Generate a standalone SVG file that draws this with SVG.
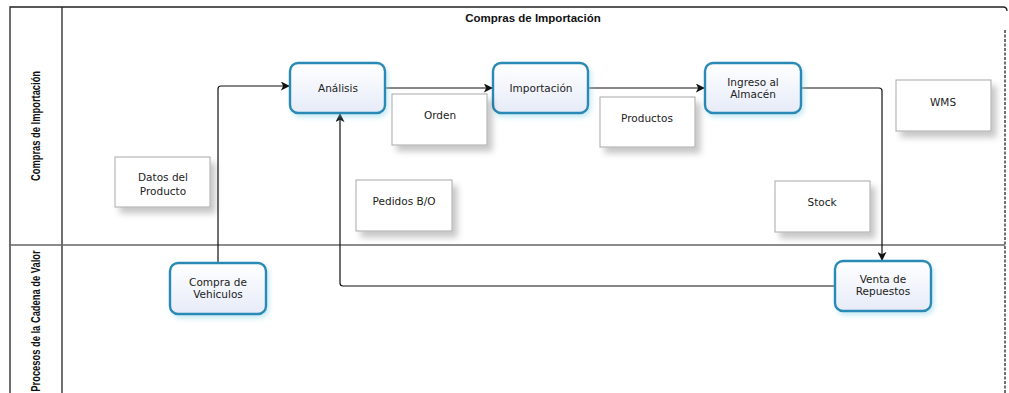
<svg xmlns="http://www.w3.org/2000/svg" width="1009" height="393" viewBox="0 0 1009 393">
  <style>
    .lane { fill: none; stroke: #222; stroke-width: 1.3; }
    .divider { stroke: #666; stroke-width: 1.5; }
    .title { font-family: "Liberation Sans", Arial, sans-serif; font-weight: bold; font-size: 11.5px; fill: #111; text-anchor: middle; }
    .lanelabel { font-family: "Liberation Sans", Arial, sans-serif; font-weight: bold; font-size: 13px; fill: #111; text-anchor: middle; }
    .task rect { fill: url(#taskFill); stroke: #2a8ab5; stroke-width: 2.4; filter: url(#glow); }
    .data rect { fill: #fff; stroke: #a8a8a8; stroke-width: 1; filter: url(#shadow); }
    .label { font-family: "DejaVu Sans", Verdana, sans-serif; font-size: 10.5px; fill: #222; text-anchor: middle; }
    .flow { fill: none; stroke: #111; stroke-width: 1.2; marker-end: url(#arrow); }
  </style>
  <defs>
    <linearGradient id="taskFill" x1="0" y1="0" x2="0" y2="1">
      <stop offset="0" stop-color="#ffffff"/>
      <stop offset="1" stop-color="#e6ebf8"/>
    </linearGradient>
    <filter id="glow" x="-20%" y="-30%" width="140%" height="160%">
      <feGaussianBlur in="SourceAlpha" stdDeviation="2.5"/>
      <feOffset dx="2" dy="3" result="b"/>
      <feFlood flood-color="#7fd0e6" flood-opacity="0.45"/>
      <feComposite in2="b" operator="in"/>
      <feMerge><feMergeNode/><feMergeNode in="SourceGraphic"/></feMerge>
    </filter>
    <filter id="shadow" x="-20%" y="-30%" width="150%" height="170%">
      <feGaussianBlur in="SourceAlpha" stdDeviation="3"/>
      <feOffset dx="5" dy="6" result="b"/>
      <feFlood flood-color="#000" flood-opacity="0.22"/>
      <feComposite in2="b" operator="in"/>
      <feMerge><feMergeNode/><feMergeNode in="SourceGraphic"/></feMerge>
    </filter>
    <marker id="arrow" viewBox="0 0 10 10" refX="9" refY="5" markerWidth="9" markerHeight="9" markerUnits="userSpaceOnUse" orient="auto">
      <path d="M0,0 L10,5 L0,10 L2.5,5 Z" fill="#111"/>
    </marker>
  </defs>

  <rect width="1009" height="393" fill="#fff"/>

  <!-- pool frame and lanes -->
  <g id="pool">
    <path class="lane" d="M10,393 V7 H1003 Q1007,7 1007,11"/>
    <path class="lane" d="M1005,30 V393" stroke-dasharray="3,1.5"/>
    <line class="lane" x1="62" y1="7" x2="62" y2="393"/>
    <line class="divider" x1="10" y1="245" x2="1005" y2="245"/>
    <text class="title" x="533" y="22">Compras de Importación</text>
    <text class="lanelabel" transform="translate(40,126) rotate(-90) scale(0.72,1)">Compras de Importación</text>
    <text class="lanelabel" transform="translate(40,321) rotate(-90) scale(0.72,1)">Procesos de la Cadena de Valor</text>
  </g>

  <!-- connectors -->
  <g id="connectors">
    <path class="flow" d="M218,263 V89 Q218,86 221,86 H289"/>
    <path class="flow" d="M385,88 H492"/>
    <path class="flow" d="M588,88 H704"/>
    <path class="flow" d="M801,88 H879 Q882,88 882,91 V260"/>
    <path class="flow" d="M835,286 H343 Q340,286 340,283 V114"/>
  </g>

  <!-- tasks -->
  <g id="analisis" class="task">
    <rect x="290" y="63" width="95" height="50" rx="8"/>
    <text class="label" x="338" y="92">Análisis</text>
  </g>
  <g id="importacion" class="task">
    <rect x="493" y="63" width="95" height="50" rx="8"/>
    <text class="label" x="541" y="92">Importación</text>
  </g>
  <g id="ingreso" class="task">
    <rect x="705" y="63" width="96" height="50" rx="8"/>
    <text class="label" x="753" y="86">Ingreso al</text>
    <text class="label" x="753" y="98">Almacén</text>
  </g>
  <g id="compra" class="task">
    <rect x="170" y="263" width="96" height="51" rx="8"/>
    <text class="label" x="218" y="286">Compra de</text>
    <text class="label" x="218" y="298">Vehiculos</text>
  </g>
  <g id="venta" class="task">
    <rect x="835" y="261" width="96" height="50" rx="8"/>
    <text class="label" x="883" y="283">Venta de</text>
    <text class="label" x="883" y="295">Repuestos</text>
  </g>

  <!-- data items -->
  <g id="datos" class="data">
    <rect x="115" y="157" width="95" height="50"/>
    <text class="label" x="163" y="181">Datos del</text>
    <text class="label" x="163" y="195">Producto</text>
  </g>
  <g id="orden" class="data">
    <rect x="392" y="94" width="95" height="51"/>
    <text class="label" x="440" y="119">Orden</text>
  </g>
  <g id="productos" class="data">
    <rect x="600" y="97" width="95" height="50"/>
    <text class="label" x="647" y="122">Productos</text>
  </g>
  <g id="wms" class="data">
    <rect x="896" y="80" width="95" height="51"/>
    <text class="label" x="943" y="106">WMS</text>
  </g>
  <g id="pedidos" class="data">
    <rect x="356" y="180" width="96" height="51"/>
    <text class="label" x="404" y="205">Pedidos B/O</text>
  </g>
  <g id="stock" class="data">
    <rect x="775" y="181" width="95" height="51"/>
    <text class="label" x="822" y="206">Stock</text>
  </g>
</svg>
